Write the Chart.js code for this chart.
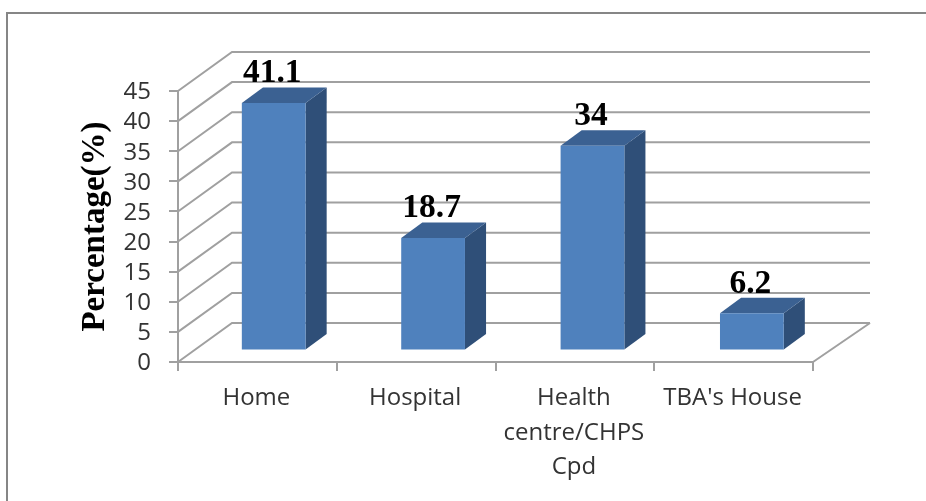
<!DOCTYPE html>
<html>
<head>
<meta charset="utf-8">
<style>
  html, body { margin: 0; padding: 0; background: #fff; overflow: hidden; }
  #stage { position: relative; width: 926px; height: 501px; }
  #frame { position: absolute; left: 6px; top: 12px; right: 0; bottom: 0;
           border-top: 2px solid #868686; border-left: 2px solid #868686; }
  canvas { position: absolute; left: 0; top: 0; }
</style>
<script src="https://cdn.jsdelivr.net/npm/chart.js@4"></script>
</head>
<body>
<div id="stage">
  <div id="frame"></div>
  <canvas id="chart" width="926" height="501"></canvas>
</div>
<script>
// Place of delivery, percentage of respondents
const categories = ['Home', 'Hospital', ['Health', 'centre/CHPS', 'Cpd'], "TBA's House"];
const percentages = [41.1, 18.7, 34, 6.2];
const valueLabels = ['41.1', '18.7', '34', '6.2'];
const axisTitle = 'Percentage(%)';

const axisMax = 45;
const axisStep = 5;

// Pseudo-3D geometry, in pixels
const wallLeftDx = 54, wallRightDx = 57, wallDy = 39;
const barScaleX = 1.004, barShiftX = 15.3, barShiftY = -11.5;
const barDepthX = 21, barDepthY = 15.5;

const gridColor = '#a0a0a0';
const frontColor = '#4f81bd';
const sideColor = '#2f4f78';
const topColor = '#3b6192';

// The bars stand on a plane set back from the axis plane
function enterBarPlane(ctx) {
  ctx.transform(barScaleX, 0, 0, 1, barShiftX, barShiftY);
}

const box3d = {
  id: 'box3d',
  beforeDatasetsDraw(chart) {
    const { ctx, chartArea: a, scales: { y } } = chart;
    ctx.save();
    ctx.strokeStyle = gridColor;
    ctx.lineWidth = 2;
    ctx.lineJoin = 'miter';

    // Side-wall and back-wall rules at every value tick
    y.ticks.forEach(t => {
      const py = y.getPixelForValue(t.value);
      ctx.beginPath();
      ctx.moveTo(a.left, py);
      ctx.lineTo(a.left + wallLeftDx, py - wallDy);
      ctx.lineTo(a.right + wallRightDx, py - wallDy);
      ctx.stroke();
    });

    // Right edge of the floor
    ctx.beginPath();
    ctx.moveTo(a.right, a.bottom);
    ctx.lineTo(a.right + wallRightDx, a.bottom - wallDy);
    ctx.stroke();
    ctx.restore();

    // Side and top faces of each bar
    ctx.save();
    enterBarPlane(ctx);
    chart.getDatasetMeta(0).data.forEach(bar => {
      const l = bar.x - bar.width / 2;
      const r = bar.x + bar.width / 2;
      const t = bar.y;
      const b = bar.base;

      ctx.fillStyle = sideColor;
      ctx.beginPath();
      ctx.moveTo(r, t);
      ctx.lineTo(r + barDepthX, t - barDepthY);
      ctx.lineTo(r + barDepthX, b - barDepthY);
      ctx.lineTo(r, b);
      ctx.closePath();
      ctx.fill();

      ctx.fillStyle = topColor;
      ctx.beginPath();
      ctx.moveTo(l, t);
      ctx.lineTo(l + barDepthX, t - barDepthY);
      ctx.lineTo(r + barDepthX, t - barDepthY);
      ctx.lineTo(r, t);
      ctx.closePath();
      ctx.fill();
    });
    ctx.restore();

    // Front faces are drawn by the library inside this shifted frame
    ctx.save();
    enterBarPlane(ctx);
  },
  afterDatasetsDraw(chart) {
    const { ctx } = chart;
    ctx.restore();

    ctx.save();
    ctx.fillStyle = '#000';
    ctx.font = 'bold 33.5px "Liberation Serif"';
    ctx.textAlign = 'center';
    ctx.textBaseline = 'alphabetic';
    chart.getDatasetMeta(0).data.forEach((bar, i) => {
      const cx = bar.x * barScaleX + barShiftX - 1.5;
      ctx.fillText(valueLabels[i], cx, bar.y + barShiftY - barDepthY - 5);
    });
    ctx.restore();
  }
};

new Chart(document.getElementById('chart'), {
  type: 'bar',
  data: {
    labels: categories,
    datasets: [{
      data: percentages,
      backgroundColor: frontColor,
      borderWidth: 0,
      categoryPercentage: 0.4,
      barPercentage: 1,
      clip: false
    }]
  },
  options: {
    responsive: false,
    animation: false,
    events: [],
    layout: { padding: { left: 0, top: 91, right: 113, bottom: 0 } },
    plugins: { legend: { display: false }, tooltip: { enabled: false } },
    scales: {
      x: {
        afterFit(scale) { scale.height = 139; },
        border: { display: true, color: gridColor, width: 2 },
        grid: { drawOnChartArea: false, drawTicks: true, tickLength: 9, color: gridColor, lineWidth: 2 },
        ticks: {
          autoSkip: false,
          maxRotation: 0,
          minRotation: 0,
          padding: 10,
          labelOffset: -1,
          color: '#333',
          font: { family: '"Open Sans"', size: 24, lineHeight: 1.44 }
        }
      },
      y: {
        min: 0,
        max: axisMax,
        afterFit(scale) { scale.width = 178; },
        border: { display: true, color: gridColor, width: 2 },
        grid: { drawOnChartArea: false, drawTicks: true, tickLength: 9, color: gridColor, lineWidth: 2 },
        ticks: {
          autoSkip: false,
          stepSize: axisStep,
          padding: 18,
          labelOffset: 1.5,
          color: '#333',
          font: { family: '"Open Sans"', size: 24 }
        },
        title: {
          display: true,
          text: axisTitle,
          color: '#000',
          padding: { top: 76, bottom: 0 },
          font: { family: '"Liberation Serif"', weight: 'bold', size: 33, lineHeight: 1.2 }
        }
      }
    }
  },
  plugins: [box3d]
});
</script>
</body>
</html>
